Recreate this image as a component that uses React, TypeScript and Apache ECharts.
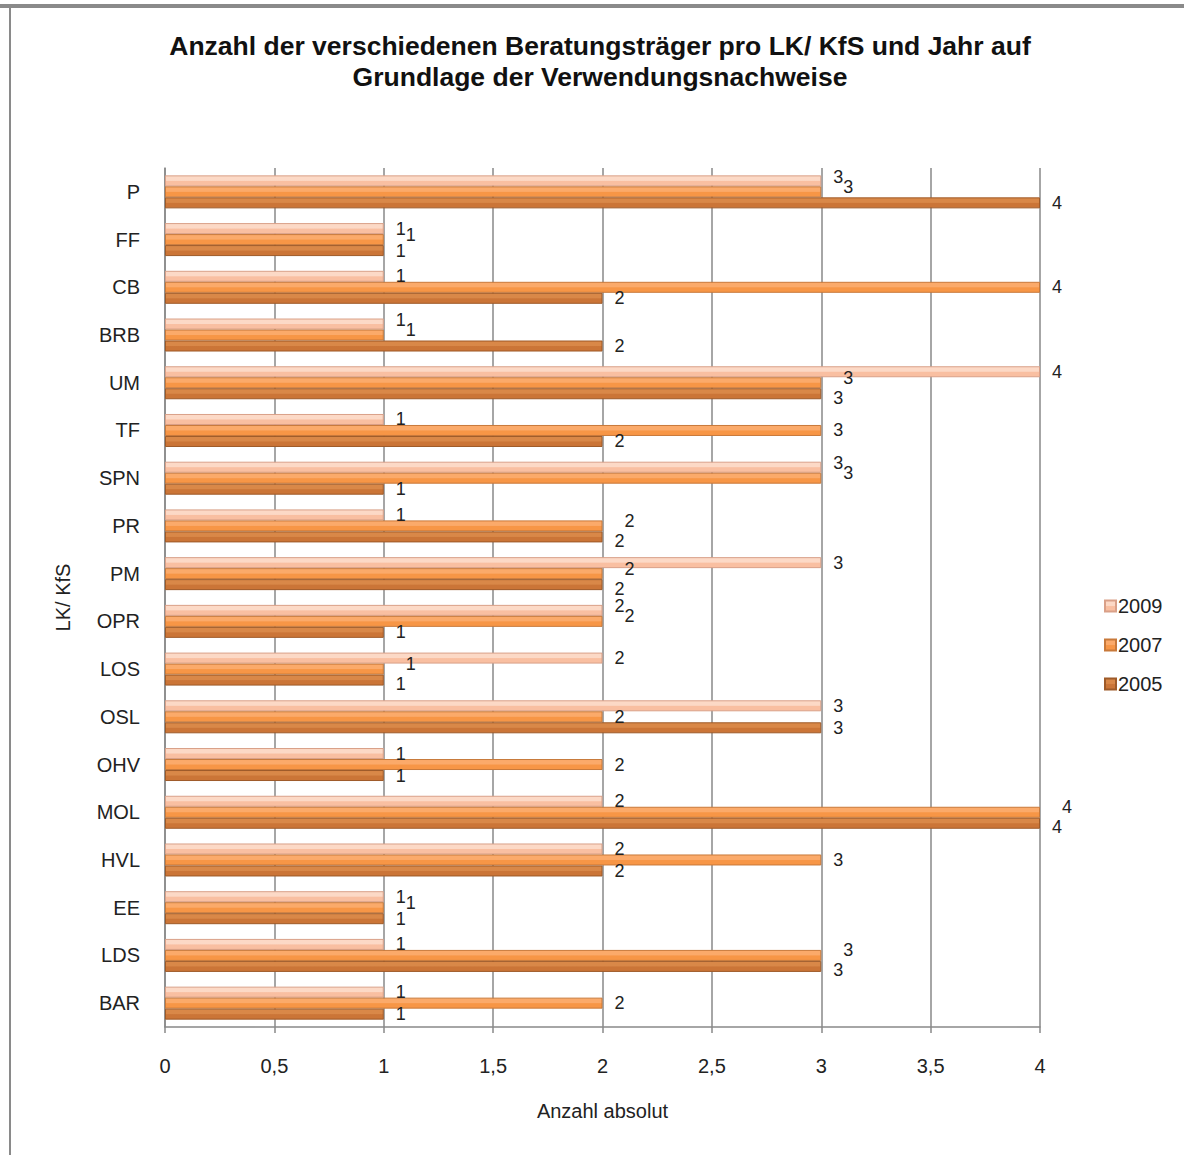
import React, { useEffect, useRef } from "react";
import * as echarts from "echarts";

const categories = ["P", "FF", "CB", "BRB", "UM", "TF", "SPN", "PR", "PM", "OPR", "LOS", "OSL", "OHV", "MOL", "HVL", "EE", "LDS", "BAR"];
const years = ["2009", "2007", "2005"];
const values2009 = [3, 1, 1, 1, 4, 1, 3, 1, 3, 2, 2, 3, 1, 2, 2, 1, 1, 1];
const values2007 = [3, 1, 4, 1, 3, 3, 3, 2, 2, 2, 1, 2, 2, 4, 3, 1, 3, 2];
const values2005 = [4, 1, 2, 2, 3, 2, 1, 2, 2, 1, 1, 3, 1, 4, 2, 1, 3, 1];
const xTicks = { min: 0, max: 4, interval: 0.5 };

const titleText = "Anzahl der verschiedenen Beratungsträger pro LK/ KfS und Jahr auf\nGrundlage der Verwendungsnachweise";

const palette = [
  { light: "#FCD9C6", base: "#F9BFA1", edge: "#D9A088" },
  { light: "#FBAA6A", base: "#F79646", edge: "#C8793A" },
  { light: "#D98848", base: "#CB7537", edge: "#9E5A28" },
];

export default function App() {
  const ref = useRef<HTMLDivElement>(null);
  useEffect(() => {
    if (!ref.current) return;
    const chart = echarts.init(ref.current, null, { renderer: "svg" });
    const data = [values2009, values2007, values2005];
    const font = "'Liberation Sans', Arial, sans-serif";
    const seriesData = (i: number) =>
      data[i].map((v, k) => {
        if (i === 1 && (v === values2009[k] || v === values2005[k])) {
          return { value: v, label: { offset: [10, -5] } };
        }
        if (i === 0 && v === values2007[k] && v !== values2005[k]) {
          return { value: v, label: { offset: [0, -4] } };
        }
        if (i === 2 && v === values2007[k] && v !== values2009[k]) {
          return { value: v, label: { offset: [0, 4] } };
        }
        return v;
      });
    chart.setOption({
      animation: false,
      backgroundColor: "#ffffff",
      textStyle: { fontFamily: font },
      title: {
        text: titleText,
        left: 595,
        top: 25,
        textAlign: "center",
        textStyle: { fontSize: 26.5, fontWeight: "bold", color: "#111", lineHeight: 31, fontFamily: font },
      },
      legend: {
        orient: "vertical",
        left: 1099,
        top: 591,
        itemWidth: 11,
        itemHeight: 11,
        itemGap: 19,
        icon: "rect",
        textStyle: { fontSize: 20, color: "#222", padding: [0, 0, 0, -3] },
        data: years,
      },
      graphic: [
        { type: "line", shape: { x1: 0, y1: 6, x2: 1184, y2: 6 }, style: { stroke: "#8a8a8a", lineWidth: 4 } },
        { type: "line", shape: { x1: 10, y1: 6, x2: 10, y2: 1155 }, style: { stroke: "#8a8a8a", lineWidth: 2 } },
      ],
      grid: { left: 165, right: 144, top: 168, bottom: 128 },
      xAxis: {
        type: "value",
        min: xTicks.min,
        max: xTicks.max,
        interval: xTicks.interval,
        name: "Anzahl absolut",
        nameLocation: "middle",
        nameGap: 74,
        nameTextStyle: { fontSize: 20, color: "#222" },
        axisLine: { show: true, lineStyle: { color: "#888", width: 1.5 } },
        axisTick: { show: true, length: 6, lineStyle: { color: "#888", width: 1.5 } },
        axisLabel: {
          fontSize: 20,
          color: "#222",
          margin: 29,
          formatter: (v: number) => String(v).replace(".", ","),
        },
        splitLine: { show: true, lineStyle: { color: "#888", width: 1.5 } },
      },
      yAxis: {
        type: "category",
        data: categories,
        inverse: true,
        name: "LK/ KfS",
        nameLocation: "middle",
        nameGap: 92,
        nameTextStyle: { fontSize: 20, color: "#222" },
        axisLine: { show: true, lineStyle: { color: "#888", width: 1.5 } },
        axisTick: { show: false },
        axisLabel: { fontSize: 20, color: "#222", margin: 25 },
      },
      series: years.map((y, i) => ({
        name: y,
        type: "bar",
        data: seriesData(i),
        barWidth: 11,
        barGap: "0%",
        itemStyle: {
          color: new echarts.graphic.LinearGradient(0, 0, 0, 1, [
            { offset: 0, color: palette[i].light },
            { offset: 0.45, color: palette[i].light },
            { offset: 0.55, color: palette[i].base },
            { offset: 1, color: palette[i].base },
          ]),
          borderColor: palette[i].edge,
          borderWidth: 1,
        },
        label: {
          show: true,
          position: "right",
          distance: 12,
          fontSize: 18,
          color: "#222",
        },
      })),
      color: palette.map((p) => p.base),
    });
    return () => chart.dispose();
  }, []);
  return <div ref={ref} style={{ position: "fixed", left: 0, top: 0, width: 1184, height: 1155 }} />;
}
